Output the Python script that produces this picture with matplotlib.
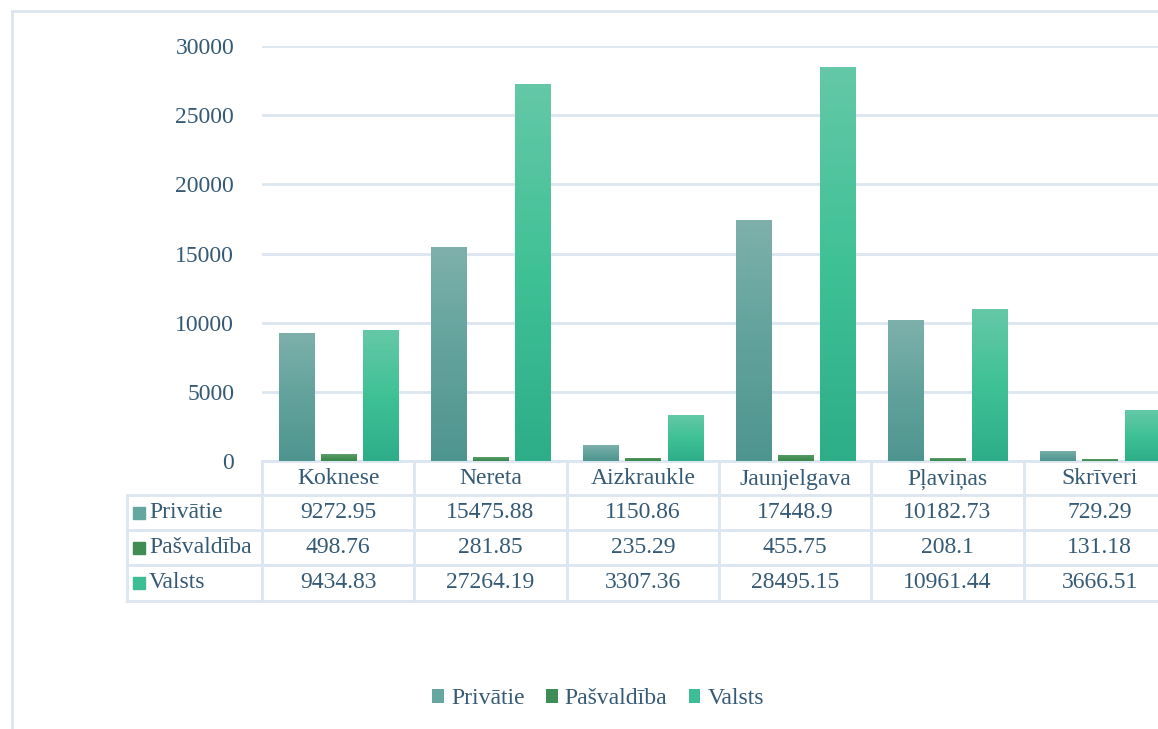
import numpy as np
import matplotlib
matplotlib.use("Agg")
import matplotlib.pyplot as plt
from matplotlib.patches import Rectangle, Patch
from matplotlib.lines import Line2D
from matplotlib.colors import LinearSegmentedColormap
import matplotlib.transforms as mtransforms

plt.rcParams['font.family'] = ['Liberation Serif', 'DejaVu Serif']

# data
categories = ['Koknese', 'Nereta', 'Aizkraukle', 'Jaunjelgava', 'Pļaviņas', 'Skrīveri']
series = ['Privātie', 'Pašvaldība', 'Valsts']
privatie = [9272.95, 15475.88, 1150.86, 17448.9, 10182.73, 729.29]
pasvaldiba = [498.76, 281.85, 235.29, 455.75, 208.1, 131.18]
valsts = [9434.83, 27264.19, 3307.36, 28495.15, 10961.44, 3666.51]
values = [privatie, pasvaldiba, valsts]

# gradient colours (top, middle, bottom) per series
grads = [
    ['#7db0ab', '#62a29c', '#4f958f'],
    ['#5c9d6c', '#489257', '#38864c'],
    ['#64c8a7', '#3fc196', '#2eae88'],
]
solid = ['#64a6a0', '#3f8c55', '#3dbd94']

txt = '#355a75'
line_c = '#dce6f0'
W, H = 1158, 729

fig = plt.figure(figsize=(W / 100, H / 100), dpi=100)

def fx(px):
    return px / W

def fy(py):
    return 1 - py / H

# outer chart border
fig.add_artist(Line2D([fx(12), fx(12)], [fy(11), fy(735)], color=line_c, lw=2))
fig.add_artist(Line2D([fx(12), fx(1170)], [fy(11), fy(11)], color=line_c, lw=2))

ax = fig.add_axes([fx(262), fy(461), fx(1176 - 262), (461 - 46) / H])
ax.set_facecolor('none')

x = np.arange(len(categories))
offsets = [-0.275, 0.0, 0.278]
bw = 0.23
for i, vals in enumerate(values):
    cmap = LinearSegmentedColormap.from_list('g%d' % i, grads[i][::-1])
    grad = np.linspace(0, 1, 64).reshape(-1, 1)
    bars = ax.bar(x + offsets[i], vals, bw, color='none', zorder=3)
    for b in bars:
        im = ax.imshow(grad, cmap=cmap, origin='lower', aspect='auto',
                       extent=[b.get_x(), b.get_x() + b.get_width(), 0, b.get_height()],
                       zorder=3)
        im.set_clip_path(b)

ax.set_xlim(-0.5, len(categories) - 0.5)
ax.set_ylim(0, 30000)
ax.set_yticks(np.arange(0, 30001, 5000))
ax.set_xticks([])
ax.grid(axis='y', color=line_c, lw=2, zorder=0)
ax.tick_params(axis='y', length=0, pad=20, labelsize=17, labelcolor=txt)
for s in ['top', 'right', 'left']:
    ax.spines[s].set_visible(False)
ax.spines['bottom'].set_color(line_c)
ax.spines['bottom'].set_linewidth(2)

# data table
blend = mtransforms.blended_transform_factory(ax.transData, fig.transFigure)
rows_px = [461, 495, 530, 565, 601]
for yp in rows_px[1:]:
    fig.add_artist(Line2D([fx(127), fx(1170)], [fy(yp), fy(yp)], color=line_c, lw=2))
fig.add_artist(Line2D([fx(127), fx(127)], [fy(495), fy(601)], color=line_c, lw=2))
for b in np.arange(-0.5, len(categories), 1.0):
    ax.add_line(Line2D([b, b], [fy(461), fy(601)], color=line_c, lw=2,
                       transform=blend, clip_on=False))

for j, c in enumerate(categories):
    ax.text(j, fy((461 + 495) / 2 + 1), c, transform=blend, ha='center', va='center',
            fontsize=17, color=txt, clip_on=False)
for i, s in enumerate(series):
    yc = fy((rows_px[i + 1] + rows_px[i + 2]) / 2)
    fig.add_artist(Rectangle((fx(133), yc - 6 / H), 12 / W, 12 / H,
                             transform=fig.transFigure, color=solid[i]))
    fig.text(fx(149), yc, s, ha='left', va='center', fontsize=17, color=txt)
    for j, v in enumerate(values[i]):
        ax.text(j, yc, str(v), transform=blend, ha='center', va='center',
                fontsize=17, color=txt, clip_on=False)

handles = [Patch(facecolor=solid[i], label=series[i]) for i in range(3)]
fig.legend(handles=handles, loc='center', bbox_to_anchor=(fx(598), fy(699)), ncol=3,
           frameon=False, fontsize=17, labelcolor=txt, handlelength=0.5,
           handleheight=0.5, handletextpad=0.3, columnspacing=0.9)

fig.savefig('out.png', dpi=100)
